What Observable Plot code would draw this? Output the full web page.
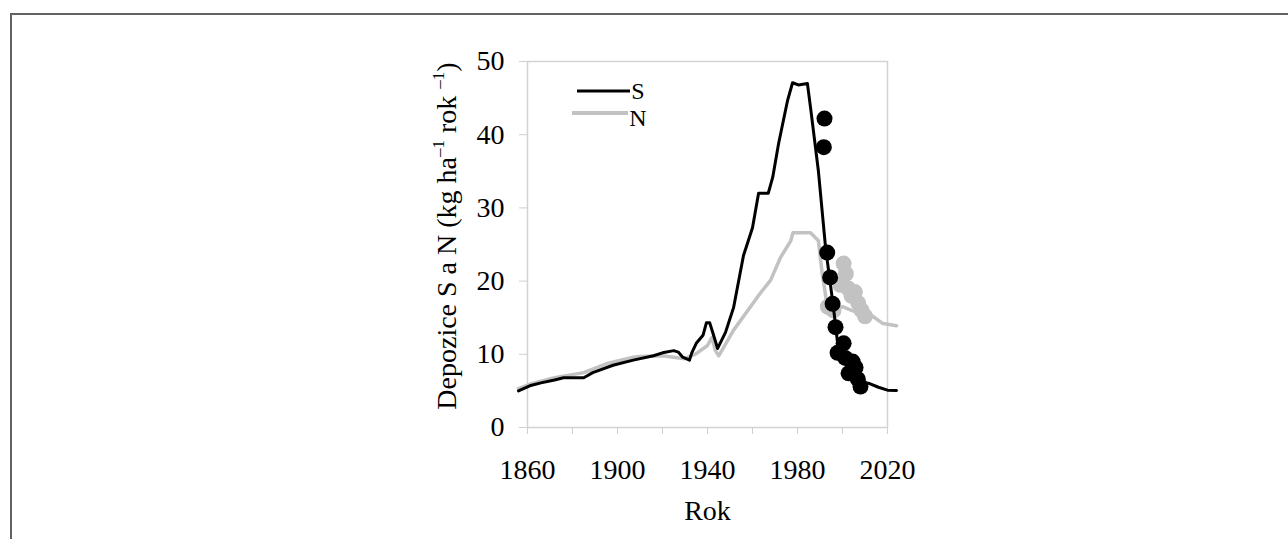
<!DOCTYPE html>
<html>
<head>
<meta charset="utf-8">
<script src="https://cdn.jsdelivr.net/npm/d3@7"></script>
<script src="https://cdn.jsdelivr.net/npm/@observablehq/plot@0.6"></script>
<style>
  html, body { margin: 0; padding: 0; background: #fff; }
  #page { position: relative; width: 1288px; height: 539px; overflow: hidden; }
  #chart { position: absolute; left: 0; top: 0; }
  #frame { position: absolute; left: 10px; top: 13px; right: -5px; bottom: -5px;
           border-top: 2px solid #626262; border-left: 2px solid #626262; pointer-events: none; }
</style>
</head>
<body>
<div id="page"><div id="chart"></div><div id="frame"></div></div>
<script>
// Modelled sulphur deposition (S), kg/ha/yr
const sYears  = [1856, 1861, 1866, 1872, 1876, 1885, 1889, 1898, 1907, 1916, 1920, 1925, 1927, 1929, 1932,
                 1933, 1935, 1938, 1939.5, 1941, 1942.5, 1944.5, 1948, 1951.6, 1956, 1960, 1962.7, 1967, 1969,
                 1971.6, 1975.6, 1977.8, 1980.4, 1984.4, 1985.8, 1989.3, 1992.5, 1994, 1995.5, 1997, 1998,
                 2000, 2003, 2006, 2008, 2010, 2012, 2016, 2020, 2024];
const sValues = [5.0, 5.7, 6.1, 6.5, 6.8, 6.8, 7.5, 8.5, 9.2, 9.8, 10.2, 10.5, 10.3, 9.6, 9.2,
                 10.2, 11.5, 12.6, 14.3, 14.3, 12.8, 10.8, 13.0, 16.4, 23.5, 27.3, 32.0, 32.0, 34.2,
                 38.8, 44.7, 47.1, 46.8, 47.0, 43.7, 35.0, 24.5, 21.0, 17.5, 13.8, 11.0,
                 9.5, 8.0, 7.0, 6.4, 6.1, 6.0, 5.5, 5.1, 5.05];

// Modelled nitrogen deposition (N), kg/ha/yr
const nYears  = [1856, 1861, 1872, 1885, 1895, 1907, 1910, 1920, 1925, 1930, 1935, 1940, 1942, 1943.5, 1945,
                 1951.6, 1963.6, 1968, 1972.4, 1977, 1978, 1985.8, 1989.3, 1991, 1993, 1996, 2000, 2004,
                 2008, 2012, 2018, 2024];
const nValues = [5.3, 5.9, 6.8, 7.5, 8.7, 9.6, 9.7, 9.8, 9.6, 9.4, 10.1, 11.2, 12.3, 10.5, 9.8,
                 13.3, 18.4, 20.1, 23.2, 25.5, 26.6, 26.6, 25.5, 21.0, 17.0, 16.0, 16.5, 16.0,
                 15.6, 15.5, 14.2, 13.9];

// Measured deposition
const sMeasYears  = [1992, 1991.7, 1993.2, 1994.5, 1995.6, 1996.9, 1997.8, 2000.5, 2001.2, 2002.7, 2004.5, 2005.8, 2006.8, 2008];
const sMeasValues = [42.2, 38.3, 23.9, 20.5, 16.9, 13.7, 10.2, 11.5, 9.5, 7.4, 9.0, 8.2, 6.6, 5.6];
const nMeasYears  = [1993.5, 1996, 1999, 2000.5, 2001.5, 2002.5, 2004, 2005.5, 2007, 2008.5, 2010];
const nMeasValues = [16.5, 16.0, 19.5, 22.4, 21.0, 19.0, 18.0, 18.5, 17.0, 16.0, 15.2];

const xTicks = [1860, 1900, 1940, 1980, 2020];
const xMinorTicks = [1860, 1880, 1900, 1920, 1940, 1960, 1980, 2000, 2020];
const yTicks = [0, 10, 20, 30, 40, 50];

const sLine = sYears.map((year, i) => ({year, value: sValues[i]}));
const nLine = nYears.map((year, i) => ({year, value: nValues[i]}));
const sMeas = sMeasYears.map((year, i) => ({year, value: sMeasValues[i]}));
const nMeas = nMeasYears.map((year, i) => ({year, value: nMeasValues[i]}));

const FONT = "'Liberation Serif', 'Times New Roman', serif";
const GREY = "#c2c2c2";

const chart = Plot.plot({
  width: 1288,
  height: 539,
  marginLeft: 527,
  marginRight: 401,
  marginTop: 61,
  marginBottom: 112,
  style: {fontFamily: FONT, fontSize: "28px", color: "black", background: "white"},
  x: {domain: [1860, 2020], label: null},
  y: {domain: [0, 50], label: null},
  marks: [
    Plot.frame({stroke: "#d3d3d3", strokeWidth: 1.5}),
    Plot.axisY({ticks: yTicks, tickSize: 8, tickFormat: () => "", color: "#d0d0d0"}),
    Plot.axisY({ticks: yTicks, tickSize: 0, tickPadding: 23, color: "black", fontSize: 28}),
    Plot.axisX({ticks: xMinorTicks, tickSize: 7, tickFormat: () => "", color: "#d0d0d0"}),
    Plot.axisX({ticks: xTicks, tickSize: 0, tickPadding: 32, tickFormat: d => String(d), color: "black", fontSize: 28}),
    Plot.line(nLine, {x: "year", y: "value", stroke: GREY, strokeWidth: 3.5, curve: "linear"}),
    Plot.dot(nMeas, {x: "year", y: "value", r: 8, fill: GREY, stroke: "none"}),
    Plot.line(sLine, {x: "year", y: "value", stroke: "black", strokeWidth: 3, curve: "linear"}),
    Plot.dot(sMeas, {x: "year", y: "value", r: 8, fill: "black", stroke: "none"}),
    Plot.text(["Rok"], {frameAnchor: "bottom", dy: 84, fontSize: 28, lineAnchor: "middle"})
  ]
});

document.getElementById("chart").appendChild(chart);

// Rotated y-axis title with superscript units, and the in-plot legend
const svg = d3.select(chart);
const title = svg.append("text")
  .attr("transform", "translate(456,236) rotate(-90)")
  .attr("text-anchor", "middle")
  .attr("font-family", FONT)
  .attr("font-size", 28)
  .attr("fill", "black");
title.append("tspan").text("Depozice S a N (kg ha");
title.append("tspan").attr("font-size", 17).attr("dy", -12).text("–1");
title.append("tspan").attr("dy", 12).text(" rok ");
title.append("tspan").attr("font-size", 17).attr("dy", -12).text("–1");
title.append("tspan").attr("dy", 12).text(")");

const legend = svg.append("g").attr("font-family", FONT).attr("font-size", 24).attr("fill", "black");
const legendItems = [
  {label: "S", color: "black", width: 3, x1: 577, x2: 630, y: 91, ty: 99},
  {label: "N", color: GREY, width: 4, x1: 572, x2: 628, y: 113, ty: 126}
];
legendItems.forEach(d => {
  legend.append("line").attr("x1", d.x1).attr("x2", d.x2).attr("y1", d.y).attr("y2", d.y)
    .attr("stroke", d.color).attr("stroke-width", d.width);
  legend.append("text").attr("x", 638).attr("y", d.ty).text(d.label);
});
</script>
</body>
</html>
